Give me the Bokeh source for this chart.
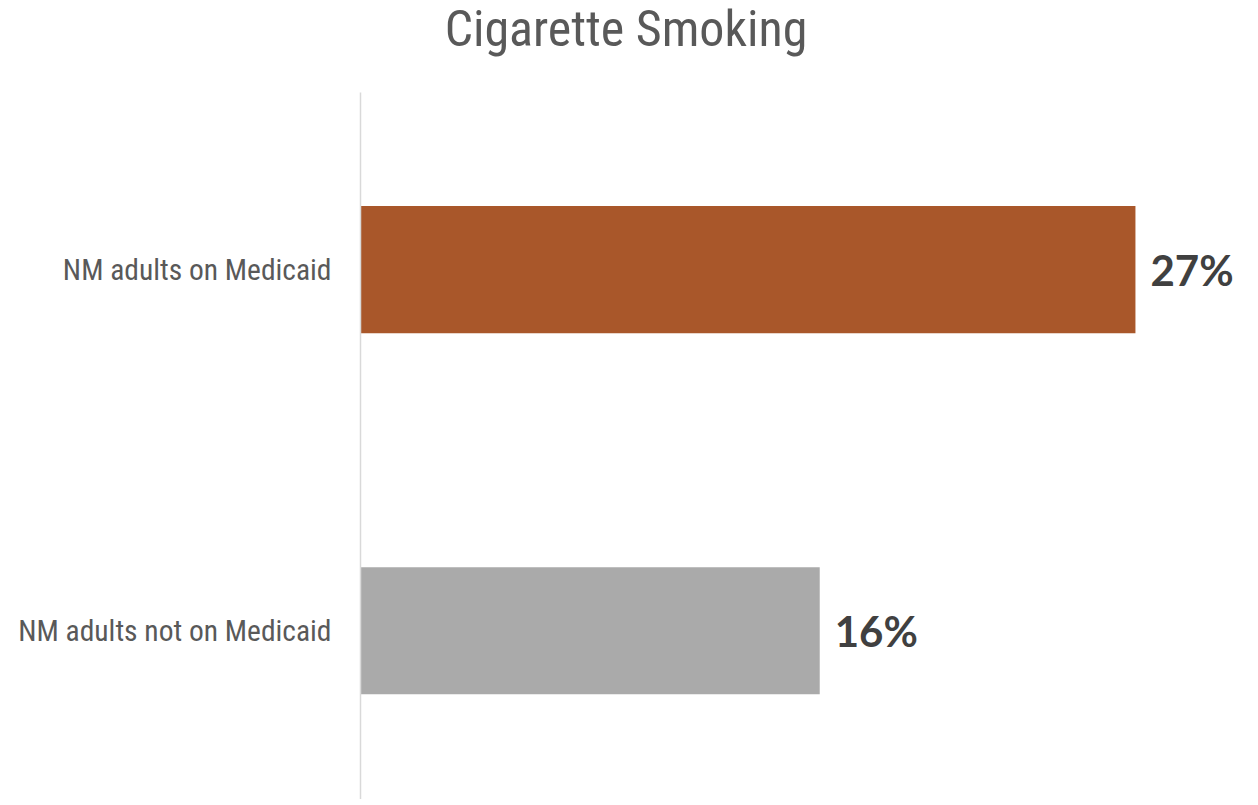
from bokeh.plotting import figure
from bokeh.models import Range1d, ColumnDataSource, Div, FixedTicker
from bokeh.layouts import column
from bokeh.core.properties import value
from bokeh.embed import file_html
from bokeh.resources import INLINE

categories = ["NM adults not on Medicaid", "NM adults on Medicaid"]
values = [16, 27]
labels = ["16%", "27%"]
colors = ["#AAAAAA", "#A9572A"]

COND = "'Roboto Condensed', 'Liberation Sans Narrow', 'Arial Narrow', sans-serif"

pos = list(range(len(categories)))
src = ColumnDataSource(dict(pos=pos, val=values, lab=labels, col=colors))

title = Div(text="Cigarette Smoking", width=1242, height=74,
            styles={"font-family": COND, "font-size": "50px", "color": "#595959",
                    "text-align": "center", "line-height": "48px", "width": "1242px"})

p = figure(width=1242, height=715, y_range=Range1d(-0.4675, 1.4905),
           x_range=Range1d(0, 30.73), output_backend="svg", toolbar_location=None,
           min_border_left=360, min_border_right=0, min_border_top=8, min_border_bottom=0)

p.hbar(y="pos", right="val", left=0, height=0.352, fill_color="col", line_color=None, source=src)
p.text(x="val", y="pos", text="lab", x_offset=15, text_baseline="middle", text_align="left",
       text_font=value("Lato"), text_font_style="bold", text_font_size="42px",
       text_color="#404040", source=src)

p.xaxis.visible = False
p.xgrid.grid_line_color = None
p.ygrid.grid_line_color = None
p.outline_line_color = None
p.yaxis.ticker = FixedTicker(ticks=pos)
p.yaxis.major_label_overrides = {i: c for i, c in zip(pos, categories)}
p.yaxis.axis_line_color = "#D9D9D9"
p.yaxis.axis_line_width = 1.5
p.yaxis.major_tick_line_color = None
p.yaxis.minor_tick_line_color = None
p.yaxis.major_label_standoff = 23
p.yaxis.major_label_text_font = COND
p.yaxis.major_label_text_font_size = "29.5px"
p.yaxis.major_label_text_color = "#595959"

layout = column(title, p, spacing=0)
open("out.html", "w").write(file_html(layout, INLINE))
